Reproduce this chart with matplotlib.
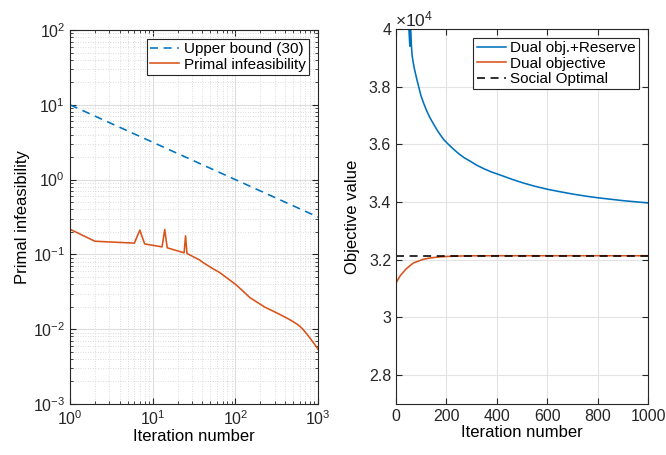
import matplotlib
matplotlib.use("Agg")
import matplotlib.pyplot as plt
from matplotlib.ticker import FuncFormatter, LogLocator, FixedLocator

plt.rcParams['font.family'] = ['Liberation Sans', 'DejaVu Sans']
plt.rcParams['mathtext.default'] = 'regular'
plt.rcParams['axes.edgecolor'] = '#262626'
plt.rcParams['xtick.color'] = '#262626'
plt.rcParams['ytick.color'] = '#262626'

# ---------------- data (left) ----------------
upper_iters = [1, 10, 100, 1000]
upper_bound = [10.0, 3.16, 1.0, 0.316]

primal_iters = [1, 2, 6, 7, 8, 13, 14, 15, 24, 25, 26, 37, 41, 54, 65, 80, 100, 125,
                150, 190, 228, 270, 300, 340, 380, 450, 500, 551, 600, 650, 728,
                800, 900, 1000]
primal_infeas = [0.217, 0.150, 0.1415, 0.211, 0.138, 0.126, 0.215, 0.1225, 0.105,
                 0.177, 0.103, 0.084, 0.0774, 0.064, 0.057, 0.048, 0.040, 0.032,
                 0.0264, 0.0224, 0.0197, 0.0180, 0.0170, 0.0159, 0.0149, 0.0135,
                 0.0126, 0.0118, 0.0110, 0.0101, 0.0087, 0.0076, 0.0064, 0.0054]

# ---------------- data (right) ----------------
dual_res_iters = [48, 55, 56, 61, 64, 68, 73, 78, 82, 90, 99, 110, 122, 135, 148,
                  160, 175, 190, 208, 230, 250, 270, 294, 320, 350, 380, 413, 460,
                  506, 550, 603, 650, 700, 750, 800, 850, 900, 950, 1000]
dual_res_vals = [40500, 39400, 40500, 39450, 39080, 38850, 38620, 38430, 38280,
                 38000, 37690, 37420, 37160, 36920, 36720, 36540, 36340, 36160,
                 36000, 35820, 35670, 35540, 35420, 35280, 35150, 35040, 34940,
                 34790, 34660, 34550, 34440, 34360, 34280, 34210, 34150, 34100,
                 34050, 34010, 33970]

dual_iters = [0, 5, 10, 15, 20, 29, 40, 55, 69, 85, 109, 135, 162, 200, 250, 300,
              400, 600, 800, 1000]
dual_vals = [31190, 31270, 31350, 31420, 31480, 31570, 31680, 31790, 31890, 31940,
             32020, 32060, 32090, 32115, 32130, 32138, 32140, 32140, 32140, 32140]

social_iters = [0, 1000]
social_opt = [32140, 32140]

blue = '#0072BD'
orange = '#D95319'
LW = 1.15

fig = plt.figure(figsize=(6.66, 4.55), dpi=100)
ax1 = fig.add_axes([70/666, 1-404/455, 248/666, 374/455])
ax2 = fig.add_axes([396/666, 1-404/455, 252/666, 375/455])

# ---------- left ----------
ax1.loglog(upper_iters, upper_bound, '--', color=blue, lw=LW, dashes=(5, 3.5),
           label='Upper bound (30)')
ax1.loglog(primal_iters, primal_infeas, '-', color=orange, lw=LW,
           label='Primal infeasibility')
ax1.set_xlim(1, 1000)
ax1.set_ylim(1e-3, 1e2)
ax1.xaxis.set_major_locator(LogLocator(base=10, numticks=10))
ax1.yaxis.set_major_locator(LogLocator(base=10, numticks=10))
ax1.xaxis.set_minor_locator(LogLocator(base=10, subs=range(2, 10), numticks=20))
ax1.yaxis.set_minor_locator(LogLocator(base=10, subs=range(2, 10), numticks=20))
ax1.grid(True, which='major', color='#dedede', lw=0.8)
ax1.grid(True, which='minor', color='#d0d0d0', lw=0.6, linestyle=(0, (1, 2)))
ax1.set_axisbelow(True)
ax1.tick_params(which='both', direction='in', top=True, right=True, labelsize=11.5)
ax1.tick_params(which='major', length=4)
ax1.tick_params(which='minor', length=2.5)
ax1.set_xlabel('Iteration number', fontsize=12, labelpad=1)
ax1.set_ylabel('Primal infeasibility', fontsize=12, labelpad=2)
leg1 = ax1.legend(loc='upper right', fontsize=11, fancybox=False, framealpha=1,
                  edgecolor='#262626', borderpad=0.2, labelspacing=0.1,
                  handlelength=1.9, handletextpad=0.3, borderaxespad=0.6)
leg1.get_frame().set_linewidth(0.8)

# ---------- right ----------
ax2.plot(dual_res_iters, dual_res_vals, '-', color=blue, lw=LW, label='Dual obj.+Reserve')
ax2.plot(dual_iters, dual_vals, '-', color=orange, lw=LW, label='Dual objective')
ax2.plot(social_iters, social_opt, '--', color='black', lw=LW, dashes=(5, 3.5),
         label='Social Optimal')
ax2.set_xlim(0, 1000)
ax2.set_ylim(27000, 40000)
ax2.xaxis.set_major_locator(FixedLocator([0, 200, 400, 600, 800, 1000]))
ax2.yaxis.set_major_locator(FixedLocator([28000, 30000, 32000, 34000, 36000, 38000, 40000]))
ax2.yaxis.set_major_formatter(FuncFormatter(lambda v, p: f"{v/1e4:g}"))
ax2.grid(True, which='major', color='#e3e3e3', lw=0.8)
ax2.set_axisbelow(True)
ax2.tick_params(which='both', direction='in', top=True, right=True, labelsize=11.5, length=4)
ax2.set_xlabel('Iteration number', fontsize=12, labelpad=1)
ax2.set_ylabel('Objective value', fontsize=12, labelpad=6)
ax2.text(-0.005, 1.0, r'$\times10^{4}$', transform=ax2.transAxes, fontsize=12.5,
         ha='left', va='bottom', color='#262626')
leg2 = ax2.legend(loc='upper right', fontsize=11, fancybox=False, framealpha=1,
                  edgecolor='#262626', borderpad=0.2, labelspacing=0.1,
                  handlelength=1.9, handletextpad=0.3, borderaxespad=0.6)
leg2.get_frame().set_linewidth(0.8)

fig.savefig('out.png', dpi=100)
